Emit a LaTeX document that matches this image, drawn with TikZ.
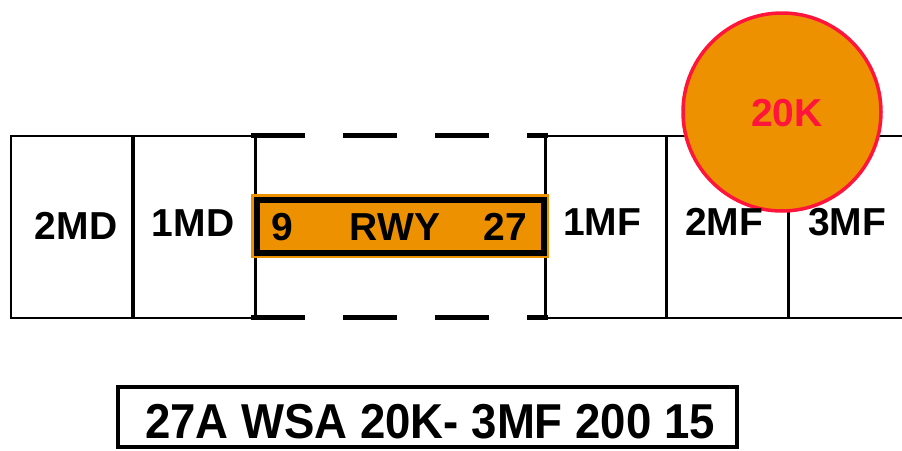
\documentclass[tikz,border=0pt]{standalone}
\usepackage{fontspec}
\setmainfont{Liberation Sans}
\newfontfamily\codefont[FakeStretch=0.93]{Liberation Sans}
\usepackage{tikz}

\definecolor{rwyorange}{RGB}{238,145,0}
\definecolor{wsared}{RGB}{255,20,60}

\begin{document}
\begin{tikzpicture}[x=1pt, y=-1pt,
	every node/.style={font=\fontsize{39}{39}\selectfont\bfseries, inner sep=0pt},
	zoneline/.style={line width=3pt},
	frameline/.style={line width=2.5pt}]
	\useasboundingbox (0,0) rectangle (902,450);
	% zone frame
	\draw[frameline] (251,136) -- (11,136) -- (11,318) -- (251,318);
	\draw[frameline] (548,136) -- (902,136);
	\draw[frameline] (548,318) -- (902,318);
	\draw[line width=4pt] (133,136) -- (133,318);
	\foreach \x in {255,545,666,788}
		\draw[zoneline] (\x,136) -- (\x,318);
	% dashed runway ends
	\draw[line width=5pt, dash pattern=on 54pt off 38pt] (251,135) -- (548,135);
	\draw[line width=5pt, dash pattern=on 54pt off 38pt] (251,317) -- (548,317);
	% runway
	\fill[rwyorange] (251,194) rectangle (549,258);
	\draw[line width=6pt] (257,200) rectangle (544,253);
	\node (rwy9) at (282,227) {9};
	\node (rwy) at (395,227) {RWY};
	\node (rwy27) at (505,227) {27};
	% wind shear alert circle
	\filldraw[fill=rwyorange, draw=wsared, line width=3.5pt] (782,112) circle (99);
	\node[wsared] (alert) at (787,113) {20K};
	% zone labels
	\node (md2) at (76,226) {2MD};
	\node (md1) at (193,223) {1MD};
	\node (mf1) at (602,222) {1MF};
	\node (mf2) at (724,222) {2MF};
	\node (mf3) at (847,222) {3MF};
	% alert message
	\draw[line width=3.5pt] (118,387) rectangle (737,447);
	\node[font=\codefont\fontsize{49}{49}\selectfont\bfseries] (msg) at (430,422) {27A WSA 20K- 3MF 200 15};
\end{tikzpicture}
\end{document}
